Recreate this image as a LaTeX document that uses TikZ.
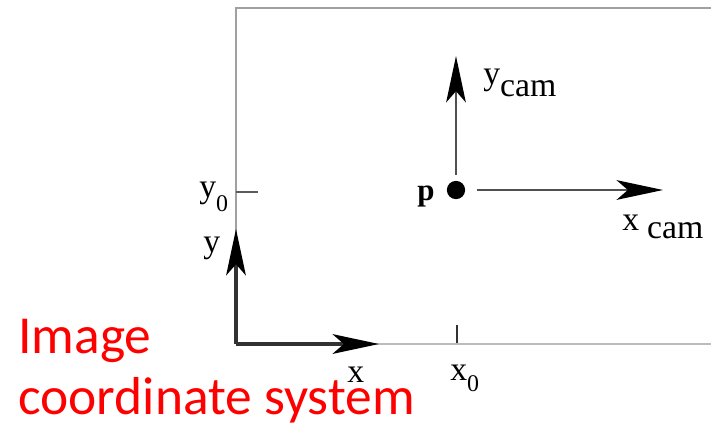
\documentclass[tikz,border=0pt]{standalone}
\usepackage{fontspec}
\setmainfont{Liberation Serif}
\newfontfamily\captionfont{Carlito}
\usetikzlibrary{arrows.meta}
\definecolor{framegray}{RGB}{160,160,160}
\definecolor{axisgray}{RGB}{50,50,50}
\definecolor{camgray}{RGB}{80,80,80}
\definecolor{capred}{RGB}{255,0,0}

\begin{document}
\begin{tikzpicture}[x=0.025cm, y=-0.025cm,
    arr/.style={-{Stealth[length=33pt, width=14pt, inset=8pt, black]}},
    lbl/.style={anchor=base west, inner sep=0pt, font=\fontsize{24}{28}\selectfont}]
    \useasboundingbox (0,0) rectangle (711,424);
    % Frame corners and axis tips
    \coordinate (o) at (236,344);
    \coordinate (tl) at (236,8);
    \coordinate (tr) at (711,8);
    \coordinate (br) at (711,344);
    \coordinate (xtip) at (379,344);
    \coordinate (ytip) at (236,229);
    \coordinate (yzero) at (236,192);
    \coordinate (yzeroend) at (258,192);
    \coordinate (xzero) at (457,343);
    \coordinate (xzeroend) at (457,325);
    % Principal point
    \node[circle, fill=black, minimum size=13pt, inner sep=0pt] (p) at (456,190) {};
    \coordinate (ycamtip) at (456,56);
    \coordinate (xcamtip) at (663,190);

    % Frame
    \draw[framegray, line width=2pt] (o) -- (tl) -- (tr);
    \draw[framegray!70, line width=2pt] (o) -- (br);
    % Image axes
    \draw[axisgray, line width=2.2pt, arr] (o) -- (xtip);
    \draw[axisgray, line width=2.2pt, arr] (o) -- (ytip);
    \draw[axisgray!80, line width=1.5pt] (yzero) -- (yzeroend);
    \draw[axisgray, line width=1.5pt] (xzero) -- (xzeroend);
    % Camera axes
    \draw[camgray, line width=1.5pt, arr, shorten <=4pt] (p) -- (ycamtip);
    \draw[camgray, line width=1.5pt, arr, shorten <=8pt] (p) -- (xcamtip);

    % Labels
    \node[lbl] (ylab) at (203,252) {y};
    \node[lbl] (yzerolab) at (199,197) {y\raisebox{-10pt}{\fontsize{17}{20}\selectfont 0}};
    \node[lbl] (xlab) at (347,382) {x};
    \node[lbl] (xzerolab) at (450,380) {x\raisebox{-8.5pt}{\fontsize{17}{20}\selectfont 0}};
    \node[lbl, font=\bfseries\fontsize{22}{24}\selectfont] (plab) at (417,200) {p};
    \node[lbl] (ycamlab) at (483,84) {y\raisebox{-9pt}{cam}};
    \node[lbl] (xcamlab) at (622,230) {x\hspace{5.7pt}\raisebox{-5.7pt}{cam}};
    \node[anchor=base west, inner sep=0pt, text=capred, align=left,
          font=\captionfont\fontsize{38}{42.7}\selectfont] (caption) at (18,414)
          {Image\\coordinate system};
\end{tikzpicture}
\end{document}
